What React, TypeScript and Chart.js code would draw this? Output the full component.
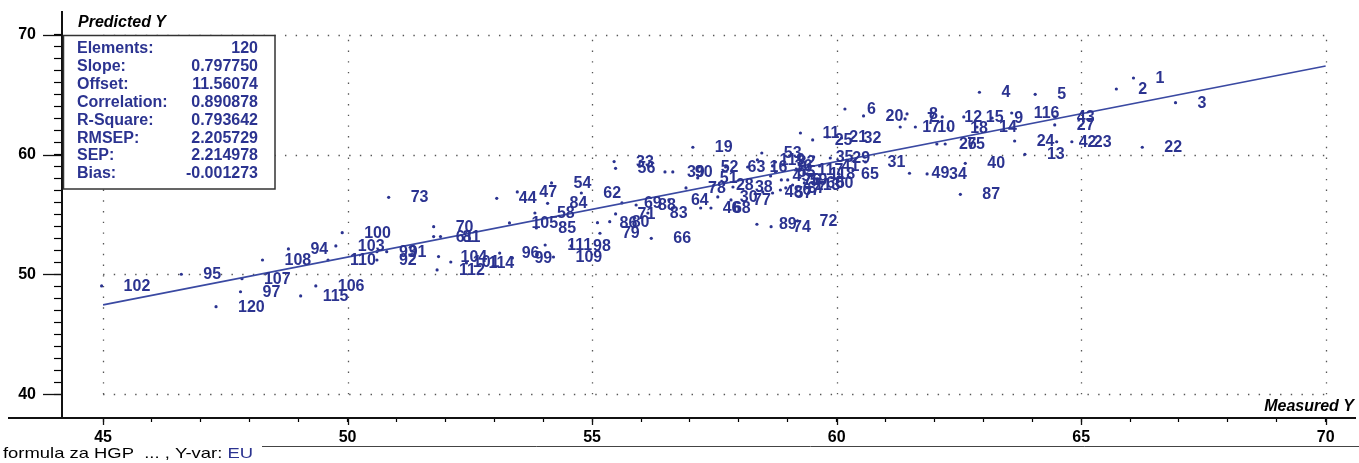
import React, { useEffect, useRef } from 'react';
import { Chart, registerables } from 'chart.js';

Chart.register(...registerables);

// ---- data -------------------------------------------------------------
const pointLabels: string[] = [
  '1','2','3','4','5','6','7','8','9','10','11','12','13','14','15','16','17','18','19','20',
  '21','22','23','24','25','26','27','28','29','30','31','32','33','34','35','36','37','38','39','40',
  '41','42','43','44','45','46','47','48','49','50','51','52','53','54','55','56','57','58','59','60',
  '61','62','63','64','65','66','67','68','69','70','71','72','73','74','75','76','77','78','79','80',
  '81','82','83','84','85','86','87','88','89','90','91','92','93','94','95','96','97','98','99','100',
  '101','102','103','104','105','106','107','108','109','110','111','112','113','114','115','116','117','118','119','120',
];

const measuredY: number[] = [
  66.07, 65.72, 66.93, 62.92, 64.06, 60.17, 61.40, 61.44, 63.18, 61.61,
  59.26, 62.16, 63.85, 62.87, 62.60, 58.18, 61.30, 62.28, 57.06, 60.55,
  59.81, 66.25, 64.81, 63.64, 59.51, 62.05, 64.46, 57.49, 59.87, 57.57,
  60.59, 60.10, 55.45, 61.85, 59.53, 58.69, 58.96, 57.88, 56.49, 62.63,
  59.65, 64.50, 64.46, 53.05, 58.65, 57.22, 53.47, 58.49, 61.49, 59.53,
  57.16, 57.18, 58.47, 54.17, 58.75, 55.48, 58.69, 53.83, 59.00, 59.34,
  51.76, 54.78, 57.73, 56.57, 60.05, 56.21, 58.85, 57.43, 55.61, 51.76,
  55.48, 59.20, 50.84, 58.66, 62.22, 58.87, 57.84, 56.92, 55.16, 55.36,
  51.90, 58.75, 56.14, 54.09, 53.86, 55.11, 62.53, 55.90, 58.37, 56.65,
  50.80, 50.60, 50.60, 48.79, 46.60, 53.11, 47.81, 54.57, 53.37, 49.89,
  52.11, 44.97, 49.76, 51.86, 53.31, 49.35, 47.84, 48.26, 54.21, 49.60,
  54.04, 51.83, 59.10, 52.43, 49.04, 63.58, 59.16, 59.40, 58.38, 47.31,
];

const predictedY: number[] = [
  66.40, 65.48, 64.34, 65.21, 65.04, 63.81, 62.98, 63.40, 63.06, 62.31,
  61.81, 63.15, 60.03, 62.31, 63.15, 58.97, 62.31, 62.23, 60.62, 63.23,
  61.48, 60.62, 61.08, 61.14, 61.23, 60.89, 62.48, 57.47, 59.72, 56.47,
  59.39, 61.39, 59.42, 58.39, 59.81, 59.06, 57.22, 57.30, 58.56, 59.28,
  59.06, 61.08, 63.15, 56.36, 58.22, 55.55, 56.89, 56.89, 58.45, 57.64,
  58.06, 58.97, 60.14, 57.64, 58.56, 58.86, 56.80, 55.13, 57.89, 57.64,
  53.16, 56.80, 58.97, 56.22, 58.36, 53.02, 57.05, 55.55, 55.97, 53.99,
  55.05, 54.47, 56.44, 53.99, 60.89, 57.89, 56.22, 57.22, 53.44, 54.41,
  53.16, 59.39, 55.13, 55.94, 53.88, 54.32, 56.69, 55.80, 54.19, 58.56,
  51.90, 51.21, 51.90, 52.13, 50.02, 51.79, 48.56, 52.38, 51.38, 53.49,
  51.04, 49.04, 52.38, 51.49, 54.30, 49.04, 49.65, 51.21, 51.46, 51.21,
  52.46, 50.38, 57.47, 50.96, 48.21, 63.48, 58.72, 58.39, 59.56, 47.31,
];

const regressionSlope = 0.79775;
const regressionOffset = 11.56074;
const regressionX: number[] = [45, 70];

const statNames: string[] = ['Elements:', 'Slope:', 'Offset:', 'Correlation:', 'R-Square:', 'RMSEP:', 'SEP:', 'Bias:'];
const statValues: string[] = ['120', '0.797750', '11.56074', '0.890878', '0.793642', '2.205729', '2.214978', '-0.001273'];

const xTicks: number[] = [45, 46, 47, 48, 49, 50, 51, 52, 53, 54, 55, 56, 57, 58, 59, 60, 61, 62, 63, 64, 65, 66, 67, 68, 69, 70];
const yTicks: number[] = [40, 41, 42, 43, 44, 45, 46, 47, 48, 49, 50, 51, 52, 53, 54, 55, 56, 57, 58, 59, 60, 61, 62, 63, 64, 65, 66, 67, 68, 69, 70];
const xMajor: number[] = [45, 50, 55, 60, 65, 70];
const yMajor: number[] = [40, 50, 60, 70];

const X_MIN = 44.16;
const X_MAX = 70.6;
const Y_MIN = 38.02;
const Y_MAX = 71.95;

const xTitle = 'Measured Y';
const yTitle = 'Predicted Y';
const footerText = 'formula za HGP  ... , Y-var: ';
const footerVar = 'EU';

// ---- styles -----------------------------------------------------------
const NAVY = '#2b3390';
const FONT = '"Liberation Sans", Arial, sans-serif';

export default function App() {
  const ref = useRef<HTMLCanvasElement | null>(null);

  useEffect(() => {
    document.body.style.margin = '0';
    const canvas = ref.current;
    if (!canvas) return;

    const overlay = {
      id: 'overlay',
      beforeDatasetsDraw(chart: any) {
        const { ctx } = chart;
        const xs = chart.scales.x;
        const ys = chart.scales.y;
        const gx0 = xs.getPixelForValue(xMajor[0]);
        const gx1 = xs.getPixelForValue(xMajor[xMajor.length - 1]);
        const gy0 = ys.getPixelForValue(yMajor[0]);
        const gy1 = ys.getPixelForValue(yMajor[yMajor.length - 1]);
        ctx.save();
        ctx.strokeStyle = '#555';
        ctx.lineWidth = 1.3;
        ctx.setLineDash([1.4, 9.3]);
        xMajor.forEach((v) => {
          const px = Math.round(xs.getPixelForValue(v)) + 0.5;
          ctx.beginPath();
          ctx.moveTo(px, gy0);
          ctx.lineTo(px, gy1);
          ctx.stroke();
        });
        yMajor.forEach((v) => {
          const py = Math.round(ys.getPixelForValue(v)) + 0.5;
          ctx.beginPath();
          ctx.moveTo(gx0, py);
          ctx.lineTo(gx1, py);
          ctx.stroke();
        });
        ctx.restore();
      },
      afterDatasetsDraw(chart: any) {
        const { ctx } = chart;
        const meta = chart.getDatasetMeta(1);
        ctx.save();
        ctx.fillStyle = NAVY;
        ctx.font = `bold 16px ${FONT}`;
        ctx.textAlign = 'left';
        ctx.textBaseline = 'middle';
        meta.data.forEach((el: any, i: number) => {
          ctx.fillText(pointLabels[i], el.x + 22, el.y + 0.5);
        });
        ctx.restore();
      },
      afterDraw(chart: any) {
        const { ctx, chartArea } = chart;
        const xs = chart.scales.x;
        const ys = chart.scales.y;
        ctx.save();
        // axis extension to the left
        ctx.strokeStyle = '#111';
        ctx.lineWidth = 2;
        ctx.beginPath();
        ctx.moveTo(8, chartArea.bottom);
        ctx.lineTo(chartArea.left, chartArea.bottom);
        ctx.stroke();
        // major ticks
        ctx.lineWidth = 1.3;
        yMajor.forEach((v) => {
          const py = Math.round(ys.getPixelForValue(v)) + 0.5;
          ctx.beginPath();
          ctx.moveTo(chartArea.left - 19, py);
          ctx.lineTo(chartArea.left, py);
          ctx.stroke();
        });
        xMajor.forEach((v) => {
          const px = Math.round(xs.getPixelForValue(v)) + 0.5;
          ctx.beginPath();
          ctx.moveTo(px, chartArea.bottom);
          ctx.lineTo(px, chartArea.bottom + 7);
          ctx.stroke();
        });
        // status line
        ctx.strokeStyle = '#444';
        ctx.lineWidth = 1;
        ctx.beginPath();
        ctx.moveTo(262, 446.5);
        ctx.lineTo(chart.width, 446.5);
        ctx.stroke();

        // axis titles
        ctx.fillStyle = '#000';
        ctx.font = `italic bold 16px ${FONT}`;
        ctx.textBaseline = 'middle';
        ctx.textAlign = 'left';
        ctx.fillText(yTitle, 78, 23);
        ctx.textAlign = 'right';
        ctx.fillText(xTitle, 1354, 407);

        // footer (slightly widened like the original status bar font)
        ctx.font = `15px ${FONT}`;
        ctx.textAlign = 'left';
        const w1 = ctx.measureText(footerText).width;
        const w2 = ctx.measureText(footerVar).width;
        const sx = 250 / (w1 + w2);
        ctx.save();
        ctx.translate(3, 454);
        ctx.scale(sx, 1);
        ctx.fillStyle = '#000';
        ctx.fillText(footerText, 0, 0);
        ctx.fillStyle = NAVY;
        ctx.fillText(footerVar, w1, 0);
        ctx.restore();

        // statistics box
        ctx.fillStyle = '#fff';
        ctx.fillRect(63, 35, 212, 154);
        ctx.strokeStyle = '#333';
        ctx.lineWidth = 1.5;
        ctx.strokeRect(63.5, 35.5, 211.5, 153.5);
        ctx.fillStyle = NAVY;
        ctx.font = `bold 16px ${FONT}`;
        ctx.textBaseline = 'middle';
        statNames.forEach((name, i) => {
          const cy = 48.8 + i * 17.86;
          ctx.textAlign = 'left';
          ctx.fillText(name, 77, cy);
          ctx.textAlign = 'right';
          ctx.fillText(statValues[i], 258, cy);
        });
        ctx.restore();
      },
    };

    const chart = new Chart(canvas, {
      type: 'scatter',
      data: {
        datasets: [
          {
            type: 'line',
            data: regressionX.map((x) => ({ x, y: regressionSlope * x + regressionOffset })),
            borderColor: '#3a49a2',
            borderWidth: 1.6,
            pointRadius: 0,
            fill: false,
          } as any,
          {
            type: 'scatter',
            data: measuredY.map((m, i) => ({ x: m, y: predictedY[i] })),
            pointRadius: 1.6,
            pointBackgroundColor: NAVY,
            pointBorderWidth: 0,
            pointStyle: 'circle',
          } as any,
        ],
      },
      options: {
        animation: false,
        responsive: false,
        events: [],
        layout: { padding: { top: 11.5, left: 0, right: 0, bottom: 0 } },
        plugins: { legend: { display: false }, tooltip: { enabled: false } },
        scales: {
          x: {
            type: 'linear',
            position: 'bottom',
            min: X_MIN,
            max: X_MAX,
            afterBuildTicks: (axis: any) => {
              axis.ticks = xTicks.map((v) => ({ value: v }));
            },
            afterFit: (axis: any) => {
              axis.height = 45;
              axis.paddingLeft = 0;
              axis.paddingRight = 0;
            },
            ticks: {
              autoSkip: false,
              maxRotation: 0,
              minRotation: 0,
              padding: 6,
              color: '#000',
              font: { family: FONT, size: 16, weight: 'bold' },
              callback: (v: any) => (Number(v) % 5 === 0 ? String(v) : ''),
            },
            grid: { drawOnChartArea: false, drawTicks: true, tickLength: 4, color: '#000', tickColor: '#000', tickWidth: 1.2 },
            border: { display: true, color: '#111', width: 2 },
          },
          y: {
            type: 'linear',
            position: 'left',
            min: Y_MIN,
            max: Y_MAX,
            afterBuildTicks: (axis: any) => {
              axis.ticks = yTicks.map((v) => ({ value: v }));
            },
            afterFit: (axis: any) => {
              axis.width = 62;
              axis.paddingTop = 0;
              axis.paddingBottom = 0;
            },
            ticks: {
              autoSkip: false,
              padding: 18,
              color: '#000',
              font: { family: FONT, size: 16, weight: 'bold' },
              callback: (v: any) => (Number(v) % 10 === 0 ? String(v) : ''),
            },
            grid: { drawOnChartArea: false, drawTicks: true, tickLength: 8, color: '#000', tickColor: '#000', tickWidth: 1.2 },
            border: { display: true, color: '#111', width: 2 },
          },
        },
      } as any,
      plugins: [overlay],
    });

    return () => chart.destroy();
  }, []);

  return (
    <div style={{ width: 1359, height: 463 }}>
      <canvas ref={ref} width={1359} height={463} style={{ display: 'block' }} />
    </div>
  );
}
